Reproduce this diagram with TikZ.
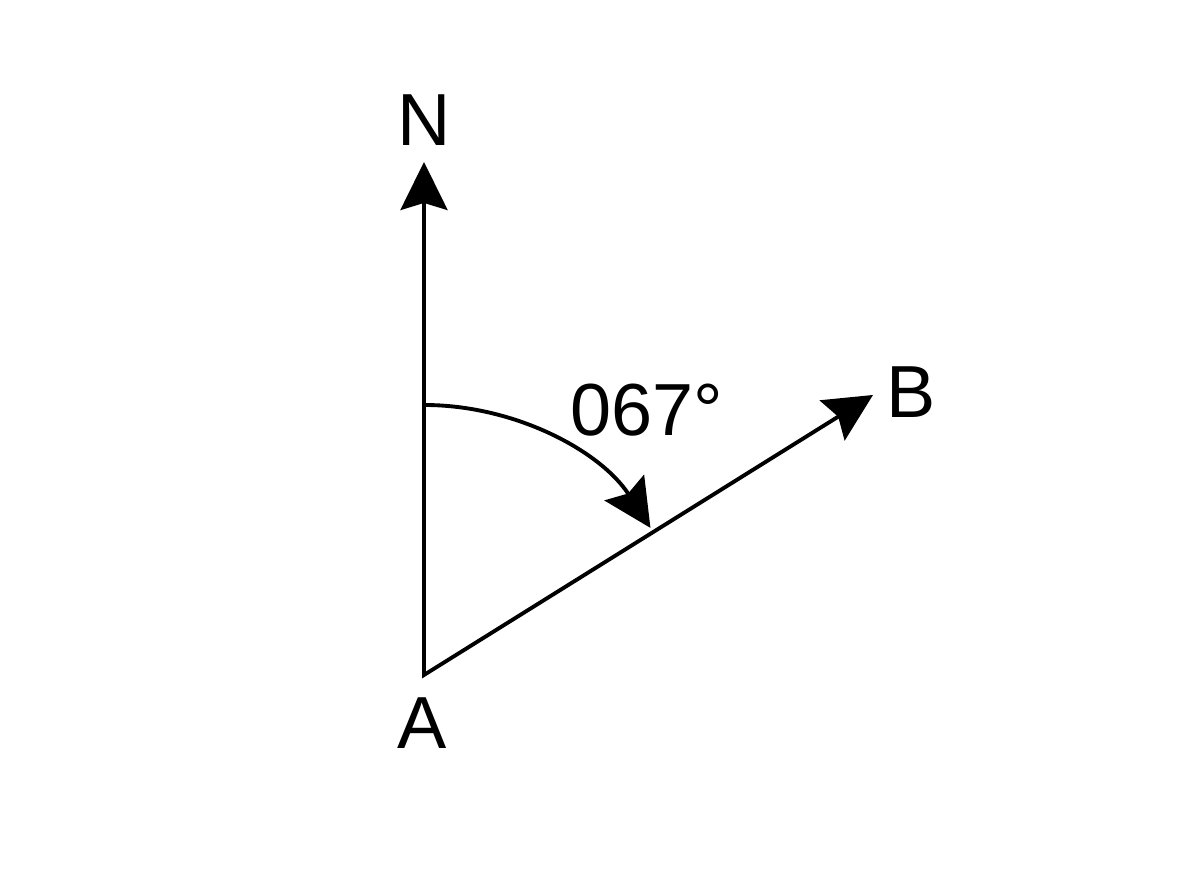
\documentclass[tikz,border=0pt]{standalone}
\usepackage{fontspec}
\setmainfont{Liberation Sans}
\usetikzlibrary{arrows.meta,calc}

\begin{document}
\begin{tikzpicture}[
    vec/.style={line width=1.1pt, line join=miter},
    tip/.style={-{Stealth[length=4.8mm,width=4.7mm,inset=0.7mm]}},
    lbl/.style={inner sep=0pt, font=\fontsize{21}{25}\selectfont}
]
\useasboundingbox (0,0) rectangle (12,8.96);
\coordinate (A) at (4.24,2.21);
\coordinate (N) at (4.24,7.34);
\coordinate (B) at (8.73,5.01);
\draw[vec,{Stealth[length=4.8mm,width=4.7mm,inset=0.7mm]}-{Stealth[length=4.8mm,width=4.7mm,inset=0.7mm]}] (N) -- (A) -- (B);
\draw[vec,tip] ($(A)+(0,2.7)$) arc (90:33:2.7);   %% bearing arc
\node[lbl] (labN) at (4.24,7.76) {N};
\node[lbl] (labA) at (4.22,1.73) {A};
\node[lbl] (labB) at (9.11,5.04) {B};
\node[lbl] (bearing) at (6.47,4.86) {067°};
\end{tikzpicture}
\end{document}
